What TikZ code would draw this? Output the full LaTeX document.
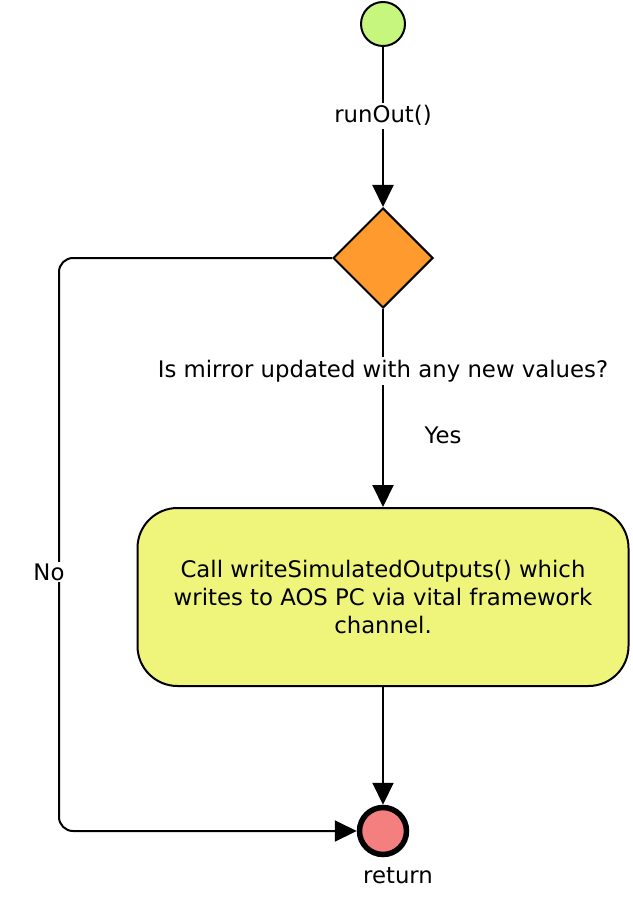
\documentclass[tikz,border=0pt]{standalone}
\usepackage{fontspec}
\setmainfont{DejaVu Sans}
\usepackage{tikz}
\usetikzlibrary{arrows.meta,shapes.geometric}
\usepackage{xcolor}

\definecolor{startgreen}{HTML}{C6F67E}
\definecolor{decorange}{HTML}{FF9A2E}
\definecolor{actyellow}{HTML}{EEF57A}
\definecolor{endred}{HTML}{F47F7F}

\begin{document}
\begin{tikzpicture}[
	x=1pt, y=-1pt,
	every node/.style={font=\fontsize{22.8}{28}\selectfont},
	flow/.style={draw, line width=2pt, -{Triangle[length=22pt,width=21pt]}},
	lbl/.style={fill=white, inner sep=3pt},
	startnode/.style={
  		draw,
  		circle,
  		line width=2pt,
  		fill=startgreen,
  		minimum size=44pt,
  		inner sep=0pt
  	},
	endnode/.style={
  		draw,
  		circle,
  		line width=5.5pt,
  		fill=endred,
  		minimum size=47pt,
  		inner sep=0pt
  	},
	decision/.style={
  		draw,
  		diamond,
  		line width=2pt,
  		fill=decorange,
  		minimum width=100pt,
  		minimum height=100pt,
  		inner sep=0pt
  	},
	activity/.style={
  		draw,
  		rounded corners=40pt,
  		line width=2pt,
  		fill=actyellow,
  		minimum width=491pt,
  		minimum height=178pt,
  		align=center
  	}]

	\useasboundingbox (0,0) rectangle (632,901);

	\node[startnode] (start) at (383,24) {};
	\node[decision] (check) at (383,258) {};
	\node[activity] (write) at (383,597) {Call writeSimulatedOutputs() which\\writes to AOS PC via vital framework\\channel.};
	\node[endnode] (stop) at (383,831) {};
	\node (stoplbl) at (398,876) {return};

	\coordinate (nw) at (59,258);
	\coordinate (sw) at (59,831);

  	\draw [flow] (start) -- node[lbl, pos=0.43] {runOut()} (check);
  	\draw [flow] (check) -- node[lbl, pos=0.315] {Is mirror updated with any new values?} (write);
  	\node (yes) at (443,435) {Yes};
  	\draw [flow] (write) -- (stop);

  	\draw [flow, rounded corners=14pt] (check.west) -- (nw) -- (sw) -- (stop.west);
  	\node[lbl, inner sep=2pt] (no) at (49,572) {No};
\end{tikzpicture}
\end{document}
